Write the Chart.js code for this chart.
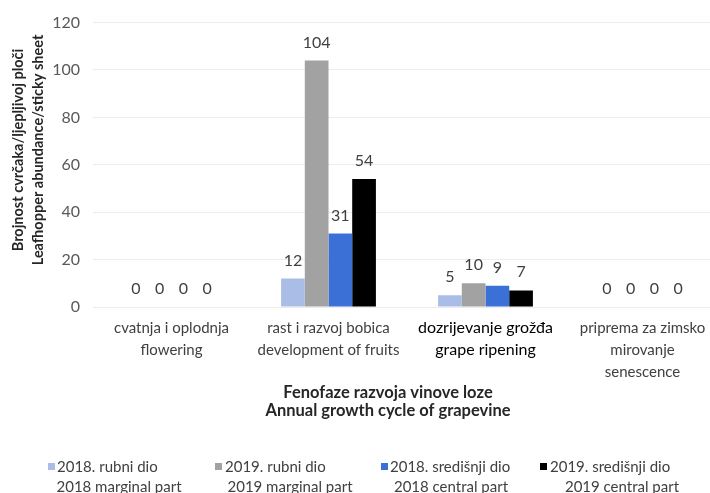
<!DOCTYPE html>
<html>
<head>
<meta charset="utf-8">
<script src="https://cdn.jsdelivr.net/npm/chart.js@4.4.1/dist/chart.umd.min.js"></script>
<style>
  html, body { margin: 0; padding: 0; background: #fff; width: 710px; height: 493px; overflow: hidden; }
  #wrap { position: absolute; left: 0; top: 0; width: 730px; height: 493px; }
  .lg { position: absolute; font: 15px Lato, sans-serif; color: #404040; line-height: 19px; white-space: nowrap; }
  .lg.c { transform: translateX(-50%); }
  .sq { position: absolute; width: 7px; height: 7px; }
</style>
</head>
<body>
<div id="wrap"><canvas id="c" width="730" height="493"></canvas></div>
<div id="legend"></div>
<script>
// phases of grapevine growth (x categories)
var categories = [
  ['cvatnja i oplodnja', 'flowering'],
  ['rast i razvoj bobica', 'development of fruits'],
  ['dozrijevanje grožđa', 'grape ripening'],
  ['priprema za zimsko', 'mirovanje', 'senescence']
];
var seriesNames = [
  ['2018. rubni dio', '2018 marginal part'],
  ['2019. rubni dio', '2019 marginal part'],
  ['2018. središnji dio', '2018 central part'],
  ['2019. središnji dio', '2019 central part']
];
var rubni2018     = [0, 12, 5, 0];
var rubni2019     = [0, 104, 10, 0];
var sredisnji2018 = [0, 31, 9, 0];
var sredisnji2019 = [0, 54, 7, 0];
var yMin = 0, yMax = 120, yStep = 20;
var yTitle = ['Brojnost cvrčaka/ljepljivoj ploči', 'Leafhopper abundance/sticky sheet'];
var xTitle = ['Fenofaze razvoja vinove loze', 'Annual growth cycle of grapevine'];

var COLORS = ['#a9bde6', '#a2a2a2', '#3b70d6', '#000000'];
var FONT = 'Lato, sans-serif';

var valueLabels = {
  id: 'valueLabels',
  afterDatasetsDraw: function (chart) {
    var ctx = chart.ctx;
    ctx.save();
    ctx.font = '16px ' + FONT;
    ctx.fillStyle = '#404040';
    ctx.textAlign = 'center';
    ctx.textBaseline = 'alphabetic';
    chart.data.datasets.forEach(function (ds, i) {
      chart.getDatasetMeta(i).data.forEach(function (bar, j) {
        ctx.fillText(String(ds.data[j]), bar.x, bar.y - 13);
      });
    });
    ctx.restore();
  }
};

var axisTitles = {
  id: 'axisTitles',
  afterDraw: function (chart) {
    var ctx = chart.ctx;
    ctx.save();
    ctx.fillStyle = '#262626';
    ctx.textAlign = 'center';
    ctx.textBaseline = 'middle';
    // y title, rotated
    ctx.font = 'bold 14.5px ' + FONT;
    ctx.translate(0, 150);
    ctx.rotate(-Math.PI / 2);
    ctx.fillText(yTitle[0], 0, 18);
    ctx.fillText(yTitle[1], 0, 38);
    ctx.restore();
    ctx.save();
    ctx.fillStyle = '#262626';
    ctx.textAlign = 'center';
    ctx.textBaseline = 'middle';
    ctx.font = 'bold 16.5px ' + FONT;
    ctx.fillText(xTitle[0], 388, 393);
    ctx.fillText(xTitle[1], 388, 411);
    ctx.restore();
  }
};

new Chart(document.getElementById('c'), {
  type: 'bar',
  data: {
    labels: categories,
    datasets: [
      { label: seriesNames[0].join(' '), data: rubni2018,     backgroundColor: COLORS[0] },
      { label: seriesNames[1].join(' '), data: rubni2019,     backgroundColor: COLORS[1] },
      { label: seriesNames[2].join(' '), data: sredisnji2018, backgroundColor: COLORS[2] },
      { label: seriesNames[3].join(' '), data: sredisnji2019, backgroundColor: COLORS[3] }
    ]
  },
  options: {
    responsive: false,
    animation: false,
    layout: { padding: { top: 20, right: 9, left: 0, bottom: 0 } },
    datasets: { bar: { barPercentage: 1, categoryPercentage: 0.604 } },
    plugins: { legend: { display: false }, tooltip: { enabled: false } },
    scales: {
      x: {
        grid: { display: false, drawTicks: false },
        border: { display: false },
        ticks: {
          padding: 10,
          maxRotation: 0,
          autoSkip: false,
          color: function (c) { return c.index === 2 ? '#000000' : '#404040'; },
          font: function (c) {
            return c.index === 2 ? { family: FONT, size: 16, lineHeight: '22px' }
                                 : { family: FONT, size: 15, lineHeight: '22px' };
          }
        },
        afterFit: function (s) { s.height = 493 - 307; }
      },
      y: {
        min: yMin, max: yMax,
        grid: { color: '#ececec', drawTicks: false },
        border: { display: false },
        ticks: { stepSize: yStep, padding: 13, color: '#595959', font: { family: FONT, size: 16 } },
        afterFit: function (s) { s.width = 93; }
      }
    }
  },
  plugins: [valueLabels, axisTitles]
});

// legend below the chart, two-line entries
var legendSquareX = [48, 215, 381, 540];
var legendLine1X  = [57, 225, 390, 550];
var legendLine2X  = [119, 290, 451, 622];
var legendEl = document.getElementById('legend');
seriesNames.forEach(function (name, i) {
  var sq = document.createElement('div');
  sq.className = 'sq';
  sq.style.left = legendSquareX[i] + 'px';
  sq.style.top = '463px';
  sq.style.background = COLORS[i];
  legendEl.appendChild(sq);
  var a = document.createElement('div');
  a.className = 'lg';
  a.style.left = legendLine1X[i] + 'px';
  a.style.top = '457px';
  a.textContent = name[0];
  legendEl.appendChild(a);
  var b = document.createElement('div');
  b.className = 'lg c';
  b.style.left = legendLine2X[i] + 'px';
  b.style.top = '477px';
  b.textContent = name[1];
  legendEl.appendChild(b);
});
</script>
</body>
</html>
